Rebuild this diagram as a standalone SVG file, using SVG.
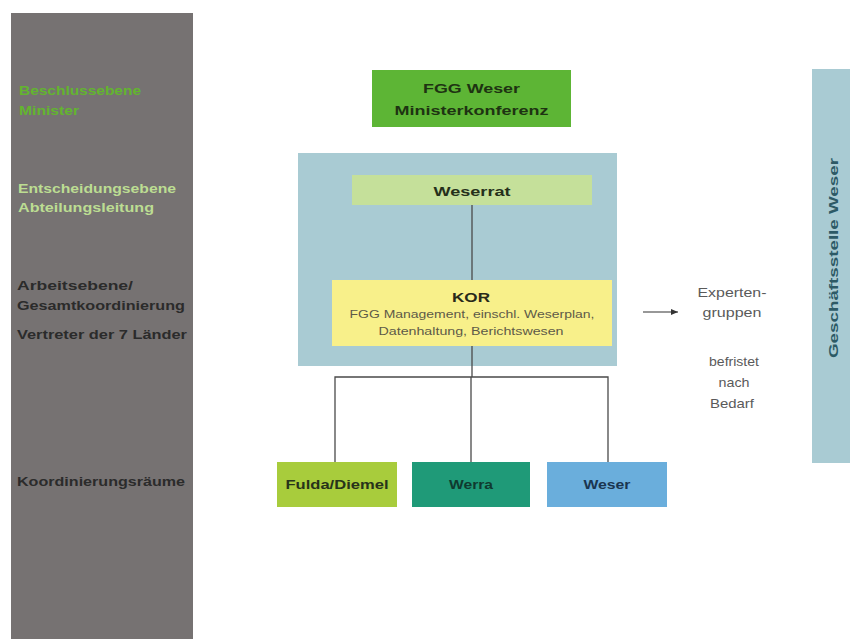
<svg xmlns="http://www.w3.org/2000/svg" width="853" height="639" viewBox="0 0 853 639">
<style>
text{font-family:"Liberation Sans",Arial,sans-serif}
.lv{font-size:13.5px;font-weight:bold}
.bx{font-size:13.5px;font-weight:bold;text-anchor:middle}
.sm{font-size:11px;text-anchor:middle;fill:#5e5a48}
.ex{font-size:13.5px;text-anchor:middle;fill:#5a5a5a}
.conn{stroke:#4a4a4a;stroke-width:1.3;fill:none}
</style>
<defs>
<marker id="ah" markerWidth="8" markerHeight="8" refX="7" refY="4" orient="auto" markerUnits="userSpaceOnUse"><path d="M0,1 L7,4 L0,7 z" fill="#333"/></marker>
</defs>
<rect width="853" height="639" fill="#ffffff"/>
<g id="levels">
<rect x="11" y="13" width="182" height="626" fill="#767272"/>
<text class="lv" x="19" y="95" fill="#63b52f" textLength="122" lengthAdjust="spacingAndGlyphs">Beschlussebene</text>
<text class="lv" x="19" y="115" fill="#63b52f" textLength="60" lengthAdjust="spacingAndGlyphs">Minister</text>
<text class="lv" x="18" y="193" fill="#bcdd92" textLength="158" lengthAdjust="spacingAndGlyphs">Entscheidungsebene</text>
<text class="lv" x="18" y="212" fill="#bcdd92" textLength="136" lengthAdjust="spacingAndGlyphs">Abteilungsleitung</text>
<text class="lv" x="17" y="290" fill="#2b2b2b" textLength="116" lengthAdjust="spacingAndGlyphs">Arbeitsebene/</text>
<text class="lv" x="17" y="310" fill="#2b2b2b" textLength="168" lengthAdjust="spacingAndGlyphs">Gesamtkoordinierung</text>
<text class="lv" x="17" y="339" fill="#2b2b2b" textLength="170" lengthAdjust="spacingAndGlyphs">Vertreter der 7 Länder</text>
<text class="lv" x="17" y="486" fill="#2b2b2b" textLength="168" lengthAdjust="spacingAndGlyphs">Koordinierungsräume</text>
</g>
<g id="panel">
<rect x="298" y="153" width="319" height="213" fill="#a9cbd3"/>
</g>
<g id="connectors">
<line class="conn" x1="472" y1="205" x2="472" y2="280"/>
<line class="conn" x1="472" y1="346" x2="472" y2="377"/>
<polyline class="conn" points="335,462 335,377 608,377 608,462"/>
<line class="conn" x1="471" y1="377" x2="471" y2="462"/>
<line x1="643" y1="312" x2="678" y2="312" stroke="#333" stroke-width="1.2" marker-end="url(#ah)"/>
</g>
<g id="ministerkonferenz">
<rect x="372" y="70" width="199" height="57" fill="#5db535"/>
<text class="bx" x="471.5" y="93" fill="#1e3312" textLength="97" lengthAdjust="spacingAndGlyphs">FGG Weser</text>
<text class="bx" x="471.5" y="115" fill="#1e3312" textLength="154" lengthAdjust="spacingAndGlyphs">Ministerkonferenz</text>
</g>
<g id="weserrat">
<rect x="352" y="175" width="240" height="30" fill="#c5e09a"/>
<text class="bx" x="472" y="196" fill="#25301a" textLength="77" lengthAdjust="spacingAndGlyphs">Weserrat</text>
</g>
<g id="kor">
<rect x="332" y="280" width="280" height="66" fill="#f8f08a"/>
<text class="bx" x="471" y="302" fill="#2a2a1a" textLength="38" lengthAdjust="spacingAndGlyphs">KOR</text>
<text class="sm" x="472" y="318" textLength="245" lengthAdjust="spacingAndGlyphs">FGG Management, einschl. Weserplan,</text>
<text class="sm" x="471" y="335" textLength="185" lengthAdjust="spacingAndGlyphs">Datenhaltung, Berichtswesen</text>
</g>
<g id="expertengruppen">
<text class="ex" x="732" y="297" textLength="69" lengthAdjust="spacingAndGlyphs">Experten-</text>
<text class="ex" x="732" y="317" textLength="59" lengthAdjust="spacingAndGlyphs">gruppen</text>
<text class="ex" x="734" y="366" textLength="50" lengthAdjust="spacingAndGlyphs">befristet</text>
<text class="ex" x="734" y="387" textLength="31" lengthAdjust="spacingAndGlyphs">nach</text>
<text class="ex" x="732" y="408" textLength="44" lengthAdjust="spacingAndGlyphs">Bedarf</text>
</g>
<g id="fulda-diemel">
<rect x="277" y="462" width="120" height="45" fill="#a8cc3c"/>
<text class="bx" x="337" y="489" fill="#27331a" textLength="103" lengthAdjust="spacingAndGlyphs">Fulda/Diemel</text>
</g>
<g id="werra">
<rect x="412" y="462" width="118" height="45" fill="#1f9a78"/>
<text class="bx" x="471" y="489" fill="#0f3a2f" textLength="44" lengthAdjust="spacingAndGlyphs">Werra</text>
</g>
<g id="weser">
<rect x="547" y="462" width="120" height="45" fill="#6aaedc"/>
<text class="bx" x="607" y="489" fill="#1a3550" textLength="47" lengthAdjust="spacingAndGlyphs">Weser</text>
</g>
<g id="geschaeftsstelle">
<rect x="812" y="69" width="38" height="394" fill="#a9cbd3"/>
<text class="bx" transform="translate(838,258) rotate(-90)" fill="#2d5a66" font-size="15" textLength="200" lengthAdjust="spacingAndGlyphs">Geschäftsstelle Weser</text>
</g>
</svg>
